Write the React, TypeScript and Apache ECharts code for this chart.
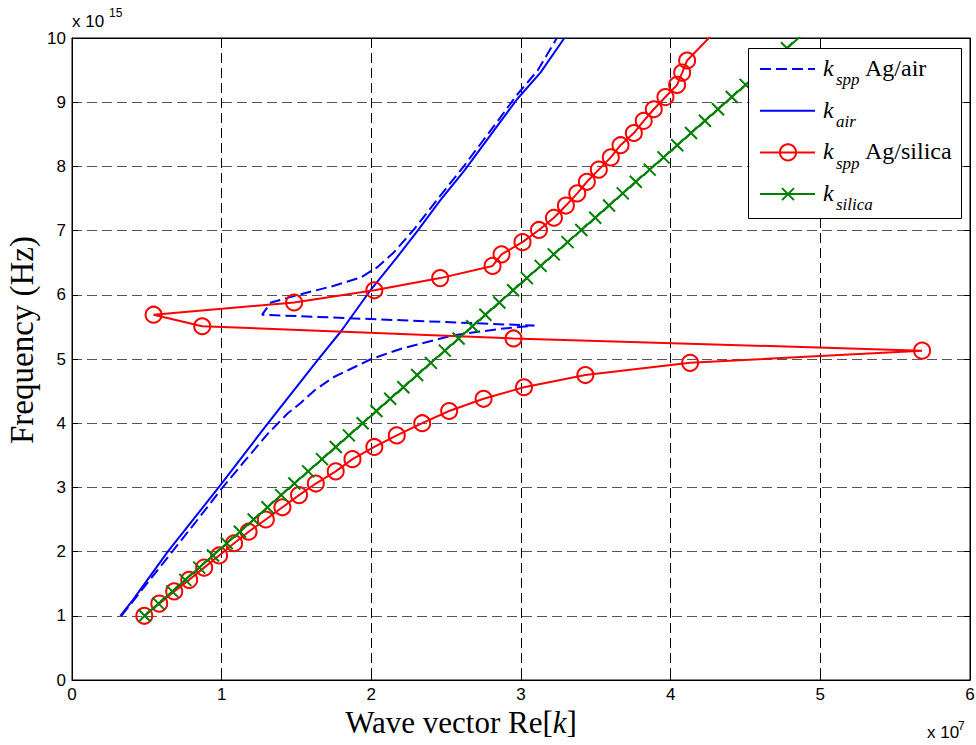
import React, { useEffect, useRef } from "react";
import * as echarts from "echarts";

// Units: wave vector in 1e7 (1/m), frequency in 1e15 (Hz)
const X_TICKS = [0, 1, 2, 3, 4, 5, 6];
const Y_TICKS = [0, 1, 2, 3, 4, 5, 6, 7, 8, 9, 10];

// k_spp Ag/air (blue dashed)
const KSPP_AIR_K = [0.33, 0.5, 0.67, 0.84, 1.0, 1.15, 1.31, 1.44, 1.53, 1.62, 1.75, 2.0, 2.2, 2.4, 2.55, 2.86, 3.09,
  1.27, 1.33, 1.53, 1.75, 1.93, 2.04, 2.15, 2.285, 2.46, 2.62, 2.82, 2.975, 3.11, 3.24];
const KSPP_AIR_W = [1.0, 1.5, 2.0, 2.5, 2.98, 3.4, 3.84, 4.15, 4.32, 4.51, 4.72, 5.0, 5.16, 5.28, 5.37, 5.47, 5.52,
  5.69, 5.88, 6.01, 6.14, 6.27, 6.43, 6.66, 7.02, 7.54, 8.01, 8.63, 9.12, 9.49, 10.0];

// k_air (blue solid)
const K_AIR_K = [0.323, 0.405, 0.64, 0.98, 1.306, 1.64, 1.8, 2.0, 2.17, 2.31, 2.46, 2.62, 2.8, 2.975, 3.13, 3.29];
const K_AIR_W = [1.0, 1.24, 2.0, 3.0, 3.99, 4.98, 5.44, 6.09, 6.58, 7.0, 7.47, 7.93, 8.5, 9.05, 9.46, 10.0];

// k_spp Ag/silica (red circles)
const KSPP_SIL_K = [0.483, 0.583, 0.683, 0.783, 0.883, 0.983, 1.083, 1.18, 1.295, 1.406, 1.517, 1.629, 1.762, 1.874,
  2.02, 2.17, 2.34, 2.52, 2.75, 3.02, 3.43, 4.13, 5.68,
  2.95, 0.87, 0.545, 1.484, 2.02, 2.46, 2.81, 2.87, 3.01, 3.12, 3.22, 3.3, 3.376, 3.44, 3.52, 3.6, 3.665, 3.754,
  3.82, 3.887, 3.965, 4.043, 4.077, 4.11, 4.38];
const KSPP_SIL_W = [1.0, 1.19, 1.38, 1.56, 1.75, 1.94, 2.13, 2.31, 2.5, 2.69, 2.88, 3.06, 3.25, 3.44,
  3.63, 3.81, 4.0, 4.19, 4.38, 4.56, 4.75, 4.94, 5.13,
  5.32, 5.51, 5.69, 5.88, 6.07, 6.26, 6.45, 6.63, 6.82, 7.01, 7.2, 7.39, 7.58, 7.76, 7.95, 8.14, 8.33, 8.52,
  8.71, 8.89, 9.08, 9.27, 9.46, 9.65, 10.3];

// k_silica (green crosses)
const K_SIL_K = [0.486, 0.578, 0.67, 0.757, 0.85, 0.942, 1.034, 1.122, 1.214, 1.306, 1.398, 1.486, 1.578, 1.67,
  1.762, 1.85, 1.942, 2.034, 2.126, 2.214, 2.306, 2.398, 2.491, 2.583, 2.675, 2.762, 2.855, 2.947, 3.039, 3.131,
  3.219, 3.311, 3.403, 3.496, 3.588, 3.68, 3.767, 3.86, 3.952, 4.044, 4.136, 4.229, 4.316, 4.408, 4.501, 4.593,
  4.685, 4.777, 4.87];
const K_SIL_W = [1.0, 1.19, 1.38, 1.56, 1.75, 1.94, 2.13, 2.31, 2.5, 2.69, 2.88, 3.06, 3.25, 3.44,
  3.63, 3.81, 4.0, 4.19, 4.38, 4.56, 4.75, 4.94, 5.13, 5.32, 5.51, 5.69, 5.88, 6.07, 6.26, 6.45,
  6.63, 6.82, 7.01, 7.2, 7.39, 7.58, 7.76, 7.95, 8.14, 8.33, 8.52, 8.71, 8.89, 9.08, 9.27, 9.46,
  9.65, 9.84, 10.03];

const LEGEND_NAMES = ["Ag/air", "air", "Ag/silica", "silica"];

const SERIF = "'Liberation Serif', 'Times New Roman', serif";
const SANS = "'Liberation Sans', Arial, Helvetica, sans-serif";
const BLUE = "#0000ff";
const RED = "#ff0000";
const GREEN = "#008000";

const pairs = (xs: number[], ys: number[]) => xs.map((x, i) => [x, ys[i]]);

function buildOption() {
  const axisCommon = {
    type: "value" as const,
    axisLine: { show: true, onZero: false, lineStyle: { color: "#000", width: 1 } },
    axisTick: { show: true, inside: true, length: 6, lineStyle: { color: "#000", width: 1 } },
  };
  const xMin = X_TICKS[0], xMax = X_TICKS[X_TICKS.length - 1];
  const yMin = Y_TICKS[0], yMax = Y_TICKS[Y_TICKS.length - 1];

  const LX1 = 760, LX2 = 815, LXM = 788;
  const LY = [69, 110.7, 152.4, 194.1];
  const subs = ["spp", "air", "spp", "silica"];
  const legendEls: any[] = [
    { type: "rect", shape: { x: 748.5, y: 48.5, width: 213, height: 170 }, style: { fill: "#fff", stroke: "#000", lineWidth: 1 }, z: 100 },
    { type: "line", shape: { x1: LX1, y1: LY[0], x2: LX2, y2: LY[0] }, style: { stroke: BLUE, lineWidth: 2, lineDash: [11, 5] }, z: 101 },
    { type: "line", shape: { x1: LX1, y1: LY[1], x2: LX2, y2: LY[1] }, style: { stroke: BLUE, lineWidth: 2 }, z: 101 },
    { type: "line", shape: { x1: LX1, y1: LY[2], x2: LX2, y2: LY[2] }, style: { stroke: RED, lineWidth: 2 }, z: 101 },
    { type: "circle", shape: { cx: LXM, cy: LY[2], r: 8 }, style: { fill: "none", stroke: RED, lineWidth: 2 }, z: 102 },
    { type: "line", shape: { x1: LX1, y1: LY[3], x2: LX2, y2: LY[3] }, style: { stroke: GREEN, lineWidth: 2 }, z: 101 },
    { type: "line", shape: { x1: LXM - 6, y1: LY[3] - 6, x2: LXM + 6, y2: LY[3] + 6 }, style: { stroke: GREEN, lineWidth: 2 }, z: 102 },
    { type: "line", shape: { x1: LXM - 6, y1: LY[3] + 6, x2: LXM + 6, y2: LY[3] - 6 }, style: { stroke: GREEN, lineWidth: 2 }, z: 102 },
  ];
  LY.forEach((y, i) => {
    legendEls.push({
      type: "text", x: 823, y: y - 1, z: 103,
      style: { text: "k", font: `italic 24px ${SERIF}`, fill: "#000", align: "left", verticalAlign: "middle", textAlign: "left", textVerticalAlign: "middle" },
    });
    legendEls.push({
      type: "text", x: 836, y: y + 10.6, z: 103,
      style: { text: subs[i], font: `italic 17px ${SERIF}`, fill: "#000", align: "left", verticalAlign: "middle", textAlign: "left", textVerticalAlign: "middle" },
    });
    if (i === 0 || i === 2) {
      legendEls.push({
        type: "text", x: 865, y: y - 1, z: 103,
        style: { text: LEGEND_NAMES[i], font: `24px ${SERIF}`, fill: "#000", align: "left", verticalAlign: "middle", textAlign: "left", textVerticalAlign: "middle" },
      });
    }
  });

  const textEl = (x: number, y: number, text: string, font: string, extra: any = {}) => ({
    type: "text", x, y, z: 50, ...extra,
    style: { text, font, fill: "#000", align: "left", verticalAlign: "middle", textAlign: "left", textVerticalAlign: "middle" },
  });

  const graphics: any[] = [
    ...legendEls,
    textEl(72, 21.5, "x 10", `17px ${SANS}`),
    textEl(109, 12.5, "15", `12px ${SANS}`),
    textEl(927, 732.5, "x 10", `17px ${SANS}`),
    textEl(958, 726, "7", `12px ${SANS}`),
    {
      type: "text", x: 461, y: 722, z: 50,
      style: {
        text: "{n|Wave vector Re[}{i|k}{n|]}",
        rich: {
          n: { fontFamily: SERIF, fontSize: 31, lineHeight: 24, fill: "#000", color: "#000" },
          i: { fontFamily: SERIF, fontSize: 31, lineHeight: 24, fontStyle: "italic", fill: "#000", color: "#000" },
        },
        fill: "#000",
        align: "center", verticalAlign: "middle", textAlign: "center", textVerticalAlign: "middle",
      },
    },
    {
      type: "text", x: 22, y: 340, rotation: Math.PI / 2, z: 50,
      style: {
        text: "Frequency (Hz)", font: `33px ${SERIF}`, fill: "#000",
        align: "center", verticalAlign: "middle", textAlign: "center", textVerticalAlign: "middle",
      },
    },
  ];

  return {
    animation: false,
    backgroundColor: "#fff",
    grid: { left: 72, right: 6, top: 38, bottom: 65, show: true, borderColor: "#000", borderWidth: 1, containLabel: false, outerBoundsMode: "none" },
    xAxis: [
      {
        ...axisCommon, position: "bottom", min: xMin, max: xMax, interval: 1,
        axisLabel: { show: true, color: "#000", fontSize: 17, fontFamily: SANS, margin: 6 },
        splitLine: { show: true, lineStyle: { color: "#000", width: 1, type: [10, 5] } },
      },
      {
        ...axisCommon, position: "top", min: xMin, max: xMax, interval: 1,
        axisLabel: { show: false }, splitLine: { show: false },
      },
    ],
    yAxis: [
      {
        ...axisCommon, position: "left", min: yMin, max: yMax, interval: 1,
        axisLabel: { show: true, color: "#000", fontSize: 17, fontFamily: SANS, margin: 6 },
        splitLine: { show: true, lineStyle: { color: "#555", width: 1, type: [10, 5] } },
      },
      {
        ...axisCommon, position: "right", min: yMin, max: yMax, interval: 1,
        axisLabel: { show: false }, splitLine: { show: false },
      },
    ],
    graphic: graphics,
    series: [
      {
        name: "kspp Ag/air", type: "line", xAxisIndex: 0, yAxisIndex: 0, data: pairs(KSPP_AIR_K, KSPP_AIR_W),
        showSymbol: false, symbol: "none", silent: true, clip: true,
        lineStyle: { color: BLUE, width: 2, type: [11, 5] }, z: 3,
      },
      {
        name: "kair", type: "line", xAxisIndex: 0, yAxisIndex: 0, data: pairs(K_AIR_K, K_AIR_W),
        showSymbol: false, symbol: "none", silent: true, clip: true,
        lineStyle: { color: BLUE, width: 2 }, z: 3,
      },
      {
        name: "kspp Ag/silica", type: "line", xAxisIndex: 0, yAxisIndex: 0, data: pairs(KSPP_SIL_K, KSPP_SIL_W),
        symbol: "circle", symbolSize: 16, showSymbol: true, showAllSymbol: true, silent: true, clip: true,
        itemStyle: { color: "rgba(255,0,0,0)", borderColor: RED, borderWidth: 2 },
        lineStyle: { color: RED, width: 2 }, z: 4,
      },
      {
        name: "ksilica", type: "line", xAxisIndex: 0, yAxisIndex: 0, data: pairs(K_SIL_K, K_SIL_W),
        symbol: "path://M0,0L10,10M10,0L0,10", symbolSize: 12, showSymbol: true, showAllSymbol: true, silent: true, clip: true,
        itemStyle: { color: "rgba(0,128,0,0)", borderColor: GREEN, borderWidth: 2 },
        lineStyle: { color: GREEN, width: 2 }, z: 5,
      },
    ],
  };
}

export default function App() {
  const ref = useRef<HTMLDivElement>(null);
  useEffect(() => {
    if (!ref.current) return;
    const chart = echarts.init(ref.current, null, { renderer: "svg" });
    chart.setOption(buildOption() as any);
    return () => chart.dispose();
  }, []);
  return (
    <div
      ref={ref}
      style={{ position: "fixed", left: 0, top: 0, width: 976, height: 745, background: "#fff" }}
    />
  );
}
